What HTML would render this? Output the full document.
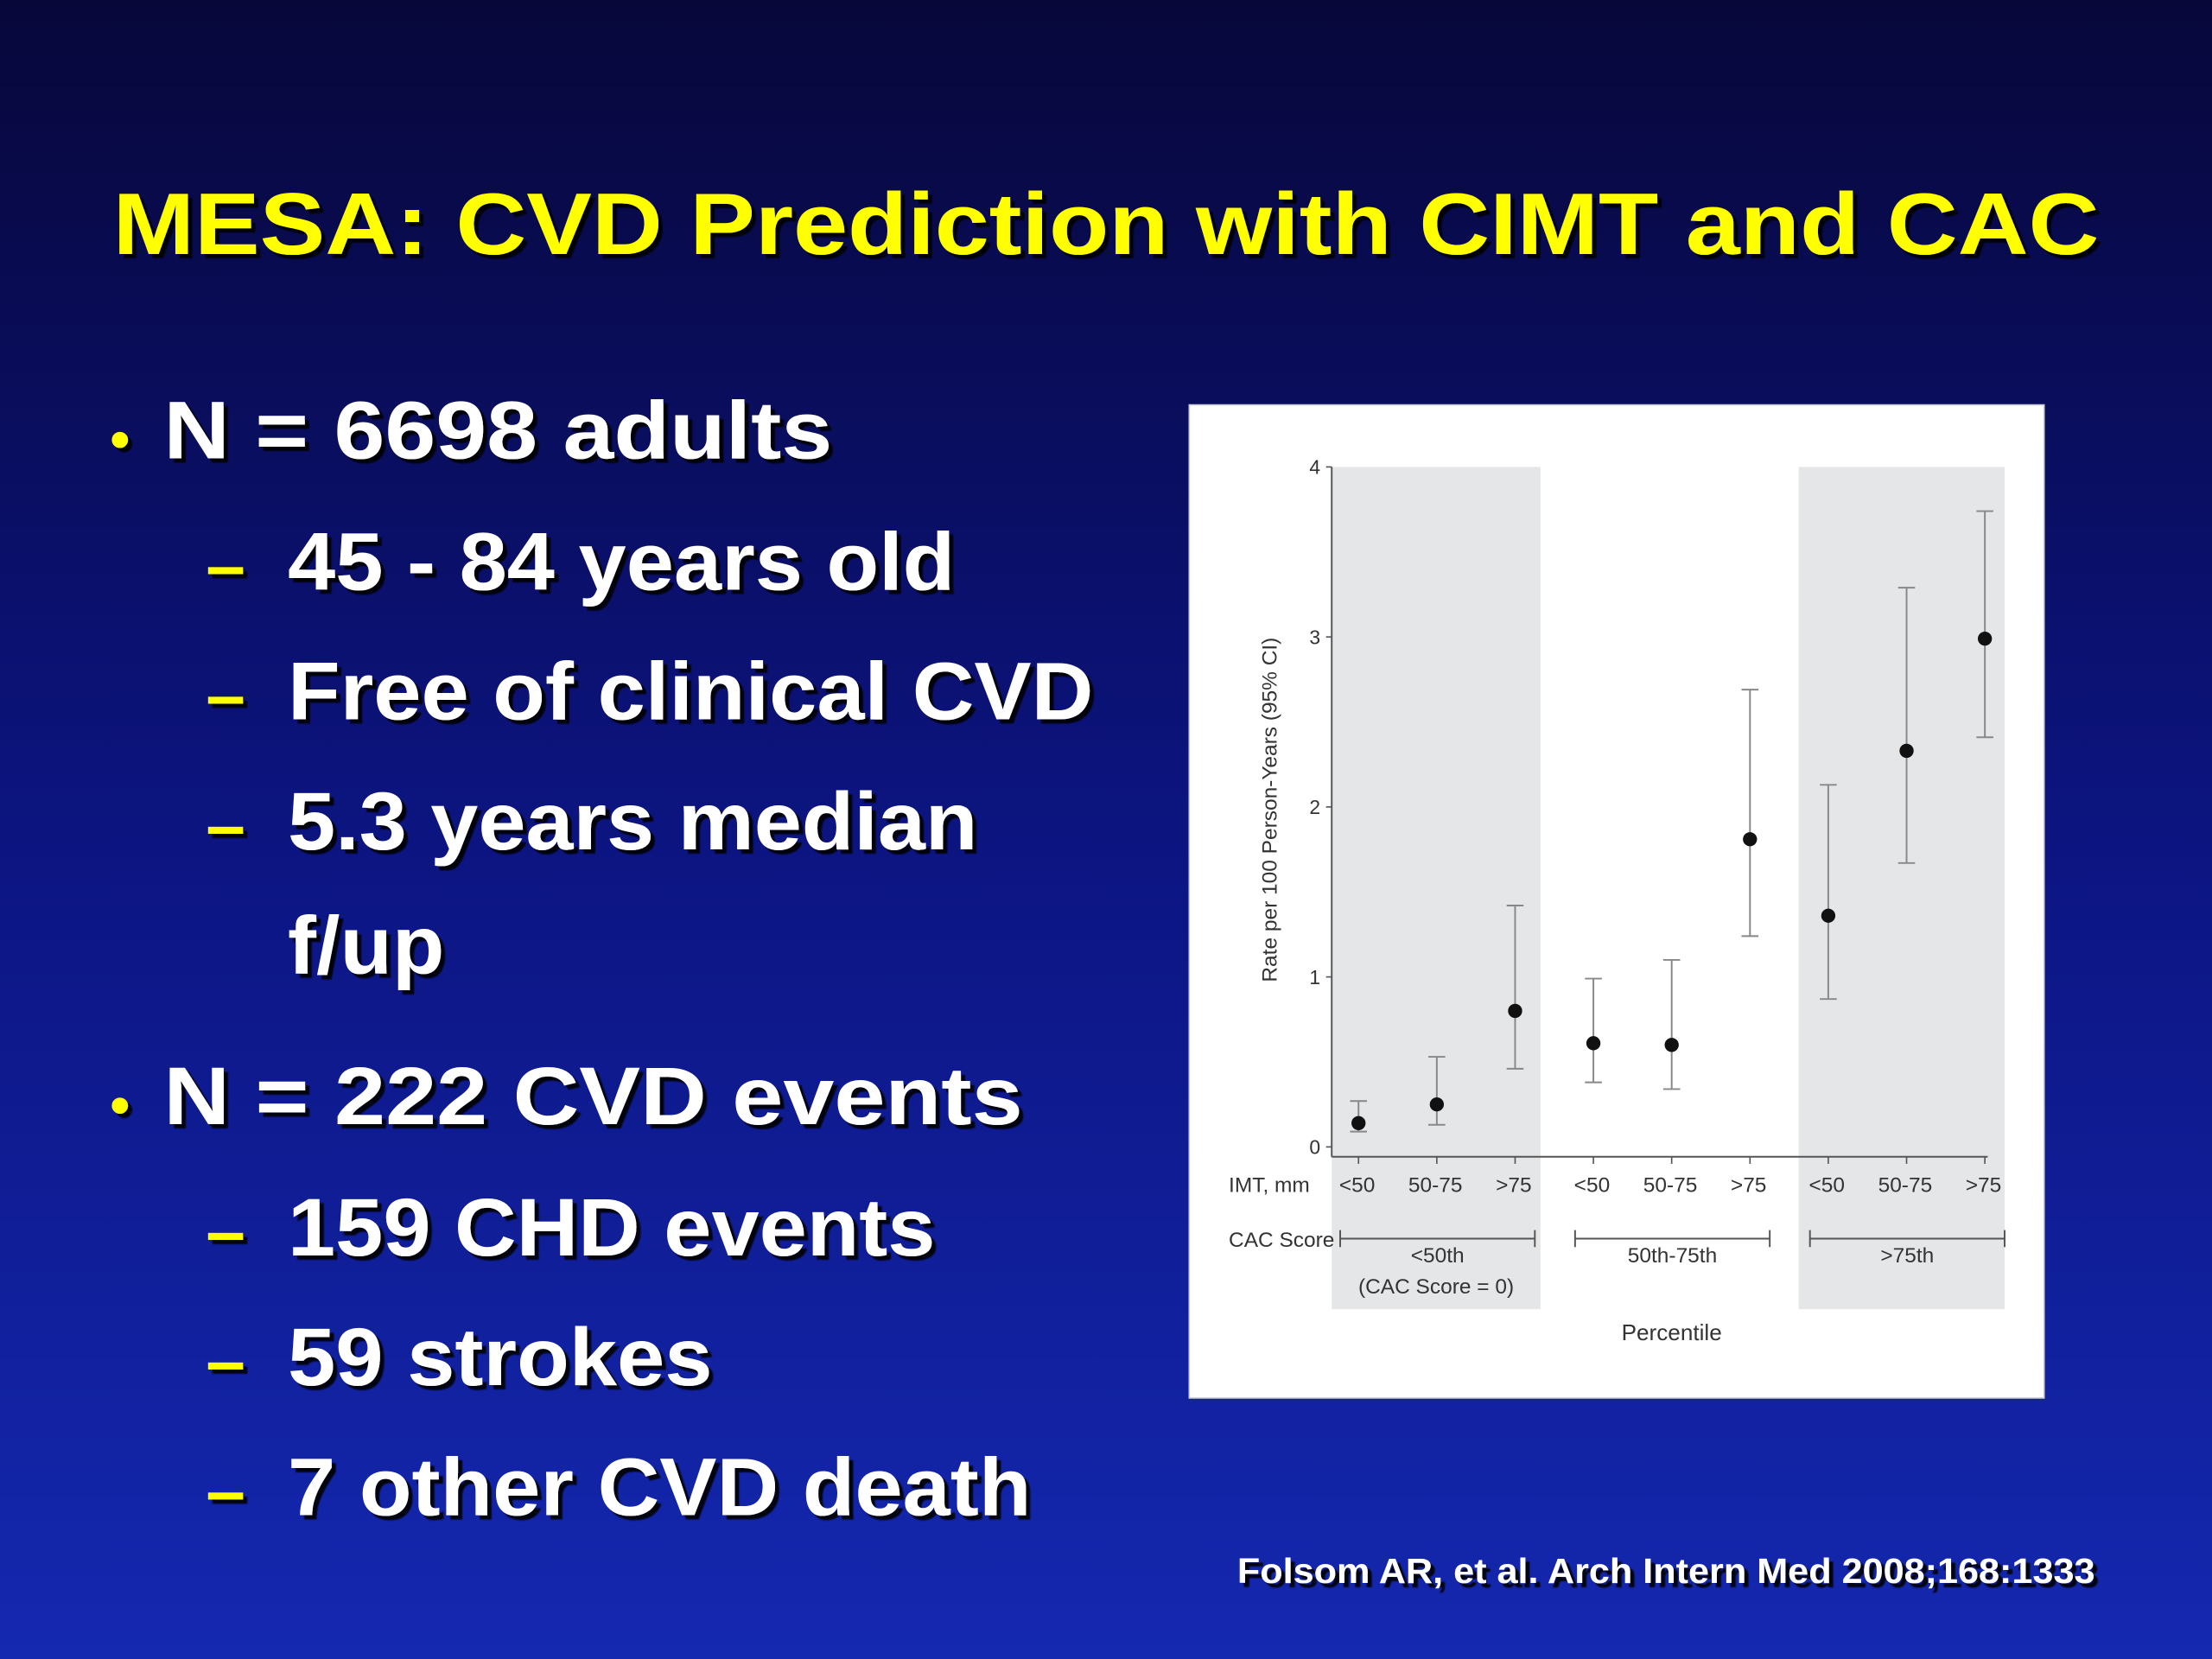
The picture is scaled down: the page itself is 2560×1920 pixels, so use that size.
<!DOCTYPE html>
<html><head><meta charset="utf-8"><style>
html,body{margin:0;padding:0;width:2560px;height:1920px;overflow:hidden;background:#0b0b55}
svg{display:block}
.t{font-family:"Liberation Sans",sans-serif;font-weight:bold}
.c{font-family:"Liberation Sans",sans-serif;fill:#333}
</style></head><body>
<svg id="s" width="2560" height="1920" viewBox="0 0 1568 1176" xmlns="http://www.w3.org/2000/svg">
<defs>
<linearGradient id="bg" x1="0" y1="0" x2="0" y2="1">
<stop offset="0" stop-color="#07073a"/><stop offset="0.5" stop-color="#0c1480"/><stop offset="1" stop-color="#1428b0"/>
</linearGradient>
<filter id="sh"><feDropShadow dx="3" dy="3" stdDeviation="0.5" flood-color="#000" flood-opacity="0.9"/></filter>
</defs>
<rect width="1568" height="1176" fill="url(#bg)"/>
<text class="t" x="80" y="180" font-size="62" fill="#ffff00" filter="url(#sh)" textLength="1408" lengthAdjust="spacingAndGlyphs">MESA: CVD Prediction with CIMT and CAC</text>
<g class="t" fill="#fff" filter="url(#sh)" font-size="58">
<text x="78" y="325" font-size="40" fill="#ffff00">•</text><text x="116" y="325" textLength="474" lengthAdjust="spacingAndGlyphs">N = 6698 adults</text>
<text x="146" y="418" font-size="50" fill="#ffff00">–</text><text x="204" y="418" textLength="473" lengthAdjust="spacingAndGlyphs">45 - 84 years old</text>
<text x="146" y="510" font-size="50" fill="#ffff00">–</text><text x="204" y="510" textLength="571" lengthAdjust="spacingAndGlyphs">Free of clinical CVD</text>
<text x="146" y="602" font-size="50" fill="#ffff00">–</text><text x="204" y="602" textLength="489" lengthAdjust="spacingAndGlyphs">5.3 years median</text>
<text x="204" y="690" textLength="111" lengthAdjust="spacingAndGlyphs">f/up</text>
<text x="78" y="797" font-size="40" fill="#ffff00">•</text><text x="116" y="797" textLength="609" lengthAdjust="spacingAndGlyphs">N = 222 CVD events</text>
<text x="146" y="890" font-size="50" fill="#ffff00">–</text><text x="204" y="890" textLength="459" lengthAdjust="spacingAndGlyphs">159 CHD events</text>
<text x="146" y="982" font-size="50" fill="#ffff00">–</text><text x="204" y="982" textLength="301" lengthAdjust="spacingAndGlyphs">59 strokes</text>
<text x="146" y="1074" font-size="50" fill="#ffff00">–</text><text x="204" y="1074" textLength="527" lengthAdjust="spacingAndGlyphs">7 other CVD death</text>
</g>
<text class="t" x="877" y="1122" font-size="25" fill="#fff" filter="url(#sh)" textLength="608" lengthAdjust="spacingAndGlyphs">Folsom AR, et al.  Arch Intern Med 2008;168:1333</text>
<g id="chart">
<rect x="843" y="287" width="606" height="704" fill="#fff" stroke="#ccc"/>
<rect x="944" y="331" width="148" height="597" fill="#e5e6e8"/>
<rect x="1275" y="331" width="146" height="597" fill="#e5e6e8"/>
</g>
</svg>
<script>
const categories=["<50","50-75",">75","<50","50-75",">75","<50","50-75",">75"];
const rates=[0.14,0.25,0.80,0.61,0.60,1.81,1.36,2.33,2.99];
const lowerCI=[0.09,0.13,0.46,0.38,0.34,1.24,0.87,1.67,2.41];
const upperCI=[0.27,0.53,1.42,0.99,1.10,2.69,2.13,3.29,3.74];
const yTicks=[0,1,2,3,4];
const groups=["<50th","50th-75th",">75th"];
const NS="http://www.w3.org/2000/svg";
const g=document.getElementById('chart');
const y=v=>813-v*120.5;
const x=i=>963+i*55.5;
function mk(t,a,txt){const e=document.createElementNS(NS,t);for(const k in a)e.setAttribute(k,a[k]);if(txt!=null)e.textContent=txt;g.appendChild(e);return e;}
let e;
e=mk('line',{x1:944,y1:331,x2:944,y2:820,stroke:'#555','stroke-width':1.2});


e=mk('line',{x1:944,y1:820,x2:x(8)+2,y2:820,stroke:'#555','stroke-width':1.2});


yTicks.forEach(v=>{
 mk('line',{x1:940,y1:y(v),x2:944,y2:y(v),stroke:'#555'});
 e=mk('text',{x:936,y:y(v)+5,'text-anchor':'end','font-size':14,class:'c'},v);
 
 
});
e=mk('text',{x:0,y:0,'font-size':15,class:'c',transform:'translate(905,574) rotate(-90)','text-anchor':'middle'},'Rate per 100 Person-Years (95% CI)');


e=mk('text',{x:871,y:845,'font-size':15,class:'c'},'IMT, mm');


e=mk('text',{x:871,y:884,'font-size':15,class:'c'},'CAC Score');


categories.forEach((c,i)=>{
 mk('line',{x1:x(i),y1:820,x2:x(i),y2:825,stroke:'#555'});
 e=mk('text',{x:x(i)-1,y:845,'text-anchor':'middle','font-size':15,class:'c'},c);
 
 
 e=mk('path',{d:`M${x(i)} ${y(upperCI[i])}V${y(lowerCI[i])}M${x(i)-6} ${y(upperCI[i])}h12M${x(i)-6} ${y(lowerCI[i])}h12`,stroke:'#888','stroke-width':1.2,fill:'none'});
 
 
 e=mk('circle',{cx:x(i),cy:y(rates[i]),r:5,fill:'#111'});
 
 
});
groups.forEach((gn,k)=>{
 const a=x(3*k)-13,b=x(3*k+2)+14,m=(a+b)/2;
 e=mk('path',{d:`M${a} 872V884M${a} 878H${b}M${b} 872V884`,stroke:'#555','stroke-width':1.2,fill:'none'});
 
 
 e=mk('text',{x:m,y:895,'text-anchor':'middle','font-size':15,class:'c'},gn);
 
 
});
e=mk('text',{x:1018,y:917,'text-anchor':'middle','font-size':15,class:'c'},'(CAC Score = 0)');


e=mk('text',{x:1185,y:950,'text-anchor':'middle','font-size':16,class:'c'},'Percentile');


</script>
</body></html>
